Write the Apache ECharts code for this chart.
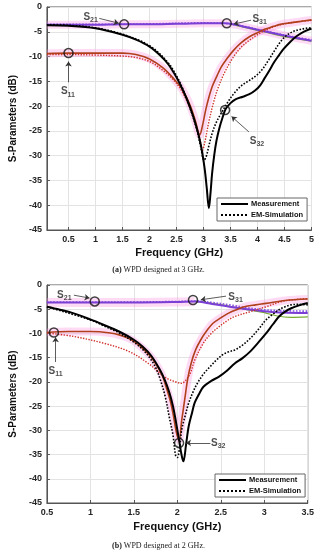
<!DOCTYPE html>
<html><head><meta charset="utf-8">
<script src="https://cdn.jsdelivr.net/npm/echarts@6/dist/echarts.min.js"></script>
<style>html,body{margin:0;padding:0;background:#fff}#c{width:317px;height:550px}</style>
</head><body><div id="c"></div>
<script>
// ---------- (a) WPD designed at 3 GHz ----------
const topXTicks = [0.5,1,1.5,2,2.5,3,3.5,4,4.5,5];
const topS21Meas = [[0.1,-3.6],[0.5,-3.6],[1,-3.6],[1.5,-3.5],[2,-3.5],[2.5,-3.4],[3,-3.3],[3.4,-3.3],[3.6,-3.6],[3.8,-4.1],[4.0,-4.6],[4.3,-5.3],[4.6,-6.0],[5.0,-6.8]];
const topS21Sim = [[0.1,-3.5],[1,-3.5],[2,-3.4],[3,-3.2],[3.4,-3.3],[3.6,-3.6],[3.8,-4.0],[4.0,-4.5],[4.3,-5.2],[4.6,-5.9],[5.0,-6.6]];
const topS31Green = [[3.6,-3.7],[3.8,-4.2],[4.0,-4.7],[4.3,-5.5],[4.6,-6.2],[5.0,-6.9]];
const topS11Meas = [[0.1,-9.4],[0.5,-9.3],[1,-9.3],[1.5,-9.3],[1.75,-9.6],[2,-10.5],[2.25,-12.3],[2.45,-14.5],[2.6,-16.5],[2.75,-19.8],[2.85,-23],[2.93,-25.8],[2.98,-24],[3.04,-20.8],[3.1,-18.2],[3.16,-16.1],[3.25,-13.9],[3.33,-12.1],[3.45,-10.2],[3.56,-8.7],[3.7,-7.2],[3.85,-6.0],[4.0,-5.2],[4.13,-4.5],[4.3,-3.9],[4.42,-3.5],[4.6,-3.2],[4.8,-2.9],[5,-2.6]];
const topS11Sim = [[0.1,-9.6],[0.5,-9.6],[1,-9.7],[1.5,-9.9],[1.75,-10.2],[2,-11],[2.25,-12.8],[2.45,-14.8],[2.6,-17],[2.75,-20.5],[2.87,-24.2],[2.94,-27],[2.98,-28.9],[3.02,-27.5],[3.1,-23.1],[3.18,-19.5],[3.27,-16.3],[3.4,-13],[3.56,-10.0],[3.7,-8.1],[3.85,-6.7],[4.0,-5.6],[4.13,-4.8],[4.3,-4.0],[4.42,-3.6],[4.6,-3.2],[4.8,-2.9],[5,-2.7]];
const topS32Meas = [[0.1,-3.7],[0.5,-3.8],[1,-4.3],[1.5,-5.6],[1.75,-6.6],[2,-8.0],[2.2,-9.8],[2.35,-11.6],[2.5,-14.2],[2.62,-16.8],[2.75,-20.2],[2.87,-24.2],[2.95,-27.8],[3.02,-32.5],[3.06,-36.5],[3.1,-40.6],[3.13,-37.5],[3.16,-33.5],[3.2,-29.8],[3.24,-27],[3.29,-24.6],[3.35,-22.4],[3.41,-20.6],[3.5,-19.4],[3.6,-18.6],[3.73,-18.1],[3.85,-17.6],[3.96,-16.8],[4.05,-15.8],[4.13,-14.4],[4.22,-12.8],[4.31,-11.1],[4.4,-9.7],[4.48,-8.5],[4.6,-7.1],[4.71,-6.0],[4.82,-5.2],[4.94,-4.6],[5,-4.4]];
const topS32Sim = [[0.1,-3.6],[0.5,-3.7],[1,-4.2],[1.5,-5.5],[2,-7.8],[2.35,-11.3],[2.5,-13.9],[2.62,-16.6],[2.75,-20.4],[2.87,-24.5],[2.95,-28.3],[3.01,-30.9],[3.05,-30.2],[3.1,-28],[3.16,-25.5],[3.24,-23.2],[3.33,-21.4],[3.45,-19.2],[3.56,-17.5],[3.7,-15.9],[3.85,-14.8],[3.97,-13.9],[4.08,-12.7],[4.2,-10.8],[4.31,-8.9],[4.42,-7.1],[4.53,-5.8],[4.65,-5.0],[4.76,-4.6],[4.9,-4.3],[5,-4.2]];
const topMarkers = [[1.53,-3.5],[0.5,-9.3],[3.43,-3.3],[3.40,-20.8]];
const topLabels = [[0.91,-2.1,'21'],[0.49,-17.1,'11'],[4.04,-2.5,'31'],[3.99,-27.0,'32']];
const topArrows = [[[1.07,-2.3],[1.43,-3.27]],[[0.5,-15.2],[0.5,-11.0]],[[3.88,-2.66],[3.56,-3.45]],[[3.84,-25.2],[3.52,-22.1]]];

// ---------- (b) WPD designed at 2 GHz ----------
const botS21Meas = [[0.5,-3.6],[1,-3.6],[1.5,-3.6],[2,-3.5],[2.2,-3.4],[2.4,-3.9],[2.6,-4.5],[2.8,-5.0],[3.0,-5.4],[3.2,-5.7],[3.5,-5.8]];
const botS21Sim = [[0.5,-3.5],[1,-3.5],[1.5,-3.5],[2,-3.4],[2.2,-3.3],[2.4,-3.6],[2.6,-4.1],[2.8,-4.7],[3.0,-5.1],[3.2,-5.3],[3.5,-5.4]];
const botS31Green = [[2.2,-3.4],[2.4,-3.8],[2.6,-4.4],[2.8,-5.1],[3.0,-5.7],[3.15,-6.4],[3.3,-6.7],[3.5,-6.6]];
const botS11Meas = [[0.5,-9.8],[0.75,-9.6],[1,-9.6],[1.23,-9.9],[1.35,-10.4],[1.44,-11.0],[1.53,-12.0],[1.62,-13.4],[1.7,-14.9],[1.77,-16.8],[1.83,-18.8],[1.87,-21.0],[1.92,-24],[1.95,-26.5],[1.99,-30.5],[2.02,-32.0],[2.05,-28],[2.09,-23.0],[2.12,-19.3],[2.16,-16.1],[2.21,-13.4],[2.27,-11.3],[2.34,-9.4],[2.41,-7.9],[2.5,-6.8],[2.59,-5.8],[2.68,-5.1],[2.77,-4.5],[2.9,-4.1],[3.02,-3.8],[3.24,-3.2],[3.5,-2.9]];
const botS11Sim = [[0.5,-9.9],[0.8,-10.6],[1.15,-12.0],[1.44,-13.7],[1.66,-16.1],[1.8,-18.2],[1.87,-19.2],[1.95,-19.8],[2.05,-20.3],[2.1,-19.6],[2.15,-18.2],[2.2,-15.5],[2.3,-12.0],[2.39,-10.0],[2.48,-8.6],[2.57,-7.4],[2.66,-6.5],[2.84,-5.5],[3.02,-4.5],[3.2,-3.4],[3.35,-3.0],[3.5,-2.8]];
const botS32Meas = [[0.5,-4.5],[0.65,-5.1],[0.8,-5.8],[1,-7.1],[1.15,-8.2],[1.33,-9.6],[1.5,-11.3],[1.6,-12.7],[1.7,-14.6],[1.8,-17.5],[1.86,-19.8],[1.91,-22.3],[1.95,-25],[1.98,-27.8],[2.02,-32],[2.05,-35.2],[2.07,-36.4],[2.1,-33],[2.13,-29.2],[2.17,-26.3],[2.2,-24.3],[2.25,-22.5],[2.3,-21.0],[2.39,-19.8],[2.48,-18.9],[2.57,-17.7],[2.66,-16.2],[2.75,-15.1],[2.84,-13.7],[2.93,-11.9],[3.02,-10.0],[3.1,-8.1],[3.17,-6.5],[3.24,-5.5],[3.31,-4.8],[3.4,-4.2],[3.5,-3.7]];
const botS32Sim = [[0.5,-4.5],[1,-7.2],[1.15,-8.4],[1.33,-9.9],[1.5,-11.8],[1.6,-13.3],[1.69,-15.2],[1.75,-17],[1.8,-19.3],[1.86,-23],[1.91,-27.5],[1.95,-31],[1.98,-35.2],[2.0,-35.6],[2.03,-33],[2.05,-29.9],[2.09,-27],[2.13,-24.4],[2.18,-22.1],[2.23,-20.3],[2.3,-18.4],[2.38,-16.8],[2.45,-15.5],[2.52,-14.4],[2.59,-13.8],[2.66,-13.4],[2.75,-12.4],[2.84,-11.0],[2.93,-9.2],[3.02,-7.2],[3.1,-6.0],[3.17,-5.1],[3.24,-4.5],[3.31,-4.1],[3.4,-4.0],[3.5,-4.1]];
const botMarkers = [[1.05,-3.4],[0.58,-9.8],[2.18,-3.1],[2.02,-32.6]];
const botLabels = [[0.70,-2.1,'21'],[0.60,-17.8,'11'],[2.67,-2.5,'31'],[2.47,-32.7,'32']];
const botArrows = [[[0.81,-2.1],[0.99,-2.7]],[[0.6,-15.9],[0.6,-10.8]],[[2.56,-2.3],[2.27,-3.05]],[[2.38,-32.6],[2.10,-32.6]]];

const yTicksMin = -45, yTicksMax = 0, yStep = 5;

const FONT = 'Liberation Sans, Arial, sans-serif';
const PURPLE = '#7b3fd6', BROWN = '#b0401c', REDDOT = '#d0302a', GREEN = '#77ac30', PINK = 'rgba(255,150,225,0.35)';

function lineSeries(idx, name, data, color, width, type, z) {
  return {type:'line', name, xAxisIndex:idx, yAxisIndex:idx, data, smooth:0.35, symbol:'none', showSymbol:false,
    itemStyle:{color}, lineStyle:{color, width, type: type||'solid'}, z: z||2, silent:true};
}
function annotations(idx, markers, labels, arrows) {
  return [
    {type:'scatter', xAxisIndex:idx, yAxisIndex:idx, data:markers, symbol:'circle', symbolSize:9,
      itemStyle:{color:'rgba(0,0,0,0)', borderColor:'#111', borderWidth:1.5}, z:10, silent:true},
    {type:'scatter', xAxisIndex:idx, yAxisIndex:idx, data:labels.map(l=>[l[0],l[1],l[2]]), symbolSize:0, z:11, silent:true,
      label:{show:true, position:'inside', formatter:p=>'{s|S}{n|'+p.value[2]+'}',
        rich:{s:{fontSize:10, fontWeight:'bold', fontFamily:FONT, color:'#222'},
              n:{fontSize:7, fontWeight:'bold', fontFamily:FONT, color:'#222', padding:[6,0,0,0]}}}},
    {type:'line', xAxisIndex:idx, yAxisIndex:idx, data:[], silent:true,
      markLine:{silent:true, animation:false, symbolSize:5,
        lineStyle:{color:'#333', width:0.8, type:'solid'}, label:{show:false},
        data:arrows.map(a=>[{coord:a[0], symbol:'none'},{coord:a[1], symbol:'arrow'}])}}
  ];
}
const axisLabelStyle = {fontSize:9, fontWeight:'bold', fontFamily:FONT, color:'#262626'};
function yAxis(idx){
  return {type:'value', gridIndex:idx, min:yTicksMin, max:yTicksMax, interval:yStep,
    name:'S-Parameters (dB)', nameLocation:'middle', nameGap:21,
    nameTextStyle:{fontSize:10, fontWeight:'bold', fontFamily:FONT, color:'#111'},
    axisLine:{show:true, lineStyle:{color:'#555'}}, axisTick:{inside:true, length:3, lineStyle:{color:'#555'}},
    axisLabel:Object.assign({margin:5}, axisLabelStyle),
    splitLine:{show:true, lineStyle:{color:'#e3e3e3', width:1}}};
}
function legend(left, top){
  return {left, top, orient:'vertical', data:['Measurement','EM-Simulation'], itemWidth:27, itemHeight:8, itemGap:3,
    padding:[2,4,2,3], borderColor:'#666', borderWidth:1, backgroundColor:'#fff',
    itemStyle:{opacity:0},
    textStyle:{fontSize:7.5, fontWeight:'bold', fontFamily:FONT, color:'#111', padding:[0,0,0,-2]}, selectedMode:false};
}
const option = {
  animation:false,
  backgroundColor:'#fff',
  title:[
    {text:'{b|(a)} WPD designed at 3 GHz.', left:'center', top:261,
      textStyle:{fontSize:8, fontWeight:'normal', fontFamily:'Liberation Serif, Times New Roman, serif', color:'#222',
        rich:{b:{fontSize:8, fontWeight:'bold', fontFamily:'Liberation Serif, serif', color:'#222'}}}},
    {text:'{b|(b)} WPD designed at 2 GHz.', left:'center', top:537,
      textStyle:{fontSize:8, fontWeight:'normal', fontFamily:'Liberation Serif, Times New Roman, serif', color:'#222',
        rich:{b:{fontSize:8, fontWeight:'bold', fontFamily:'Liberation Serif, serif', color:'#222'}}}}
  ],
  grid:[
    {left:31, top:7, width:281, height:223, show:true, borderColor:'#555', borderWidth:1, backgroundColor:'#fff'},
    {left:31, top:285, width:278, height:218, show:true, borderColor:'#555', borderWidth:1, backgroundColor:'#fff'}
  ],
  legend:[legend(217,198), legend(215,474)],
  xAxis:[
    {type:'value', gridIndex:0, min:0.1, max:5,
      name:'Frequency (GHz)', nameLocation:'middle', nameGap:17,
      nameTextStyle:{fontSize:11, fontWeight:'bold', fontFamily:FONT, color:'#111'},
      axisLine:{show:true, onZero:false, lineStyle:{color:'#555'}},
      axisTick:{inside:true, length:3, customValues:topXTicks, lineStyle:{color:'#555'}},
      axisLabel:Object.assign({margin:5, customValues:topXTicks}, axisLabelStyle),
      splitLine:{show:true, lineStyle:{color:'#e3e3e3'}}},
    {type:'value', gridIndex:1, min:0.5, max:3.5, interval:0.5,
      name:'Frequency (GHz)', nameLocation:'middle', nameGap:18,
      nameTextStyle:{fontSize:11, fontWeight:'bold', fontFamily:FONT, color:'#111'},
      axisLine:{show:true, onZero:false, lineStyle:{color:'#555'}},
      axisTick:{inside:true, length:3, lineStyle:{color:'#555'}},
      axisLabel:Object.assign({margin:5, formatter:v=>String(v)}, axisLabelStyle),
      splitLine:{show:true, lineStyle:{color:'#e3e3e3'}}}
  ],
  yAxis:[yAxis(0), yAxis(1)],
  series:[
    lineSeries(0,'bandA',topS21Meas,PINK,8,'solid',1),
    lineSeries(0,'bandB',topS11Meas,PINK,8,'solid',1),
    lineSeries(0,'S31g',topS31Green,GREEN,1.2,'solid',2),
    lineSeries(0,'S21s',topS21Sim,'#8a55e0',1.6,'dotted',3),
    lineSeries(0,'S21m',topS21Meas,PURPLE,2,'solid',3),
    lineSeries(0,'S11s',topS11Sim,REDDOT,1.4,'dotted',3),
    lineSeries(0,'S11m',topS11Meas,BROWN,1.6,'solid',3),
    lineSeries(0,'Measurement',topS32Meas,'#000',2,'solid',4),
    lineSeries(0,'EM-Simulation',topS32Sim,'#000',1.6,'dotted',4),
    ...annotations(0, topMarkers, topLabels, topArrows),
    lineSeries(1,'bandC',botS21Meas.slice(0,5),PINK,9,'solid',1),
    lineSeries(1,'bandD',botS11Meas,PINK,8,'solid',1),
    lineSeries(1,'S31g2',botS31Green,GREEN,1.2,'solid',2),
    lineSeries(1,'S21s2',botS21Sim,'#8a55e0',1.6,'dotted',3),
    lineSeries(1,'S21m2',botS21Meas,PURPLE,2,'solid',3),
    lineSeries(1,'S11s2',botS11Sim,REDDOT,1.4,'dotted',3),
    lineSeries(1,'S11m2',botS11Meas,BROWN,1.6,'solid',3),
    lineSeries(1,'Measurement',botS32Meas,'#000',2,'solid',4),
    lineSeries(1,'EM-Simulation',botS32Sim,'#000',1.6,'dotted',4),
    ...annotations(1, botMarkers, botLabels, botArrows)
  ]
};
const chart = echarts.init(document.getElementById('c'), null, {renderer:'canvas'});
chart.setOption(option);
</script>
</body></html>
